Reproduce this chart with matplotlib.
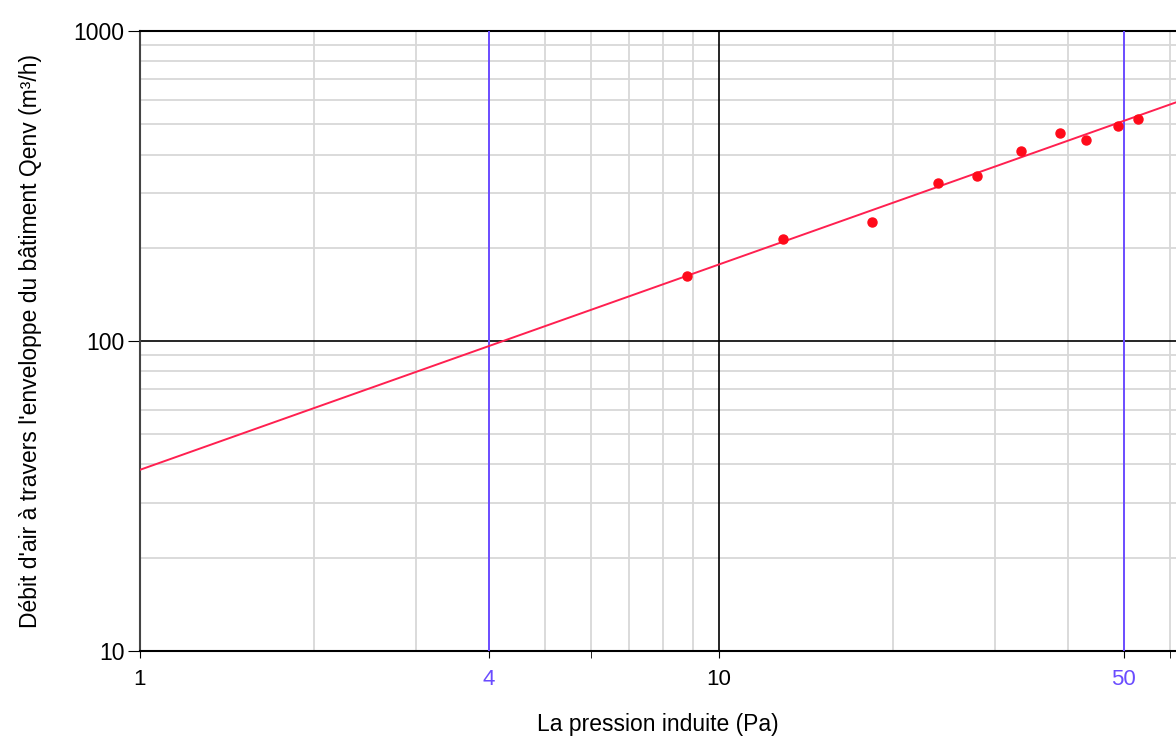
import matplotlib.pyplot as plt
from matplotlib.ticker import FixedLocator, NullFormatter
import numpy as np

plt.rcParams['font.family'] = ['Liberation Sans', 'DejaVu Sans']

# measured points (pressure Pa, flow m3/h)
pression = [8.8, 12.9, 18.4, 23.9, 27.9, 33.2, 38.8, 43.0, 48.9, 52.9]
debit = [162, 213, 242, 323, 341, 410, 469, 445, 494, 520]

# fitted law Q = C * P^n
coef_c = 38.4
expo_n = 0.663

ref_pressions = [4, 50]
x_labels = ['1', '4', '10', '50']
x_label_pos = [1, 4, 10, 50]

fig = plt.figure(figsize=(11.76, 7.43), dpi=100)
ax = fig.add_axes([0.119, 0.124, 0.881, 0.834])
ax.set_xscale('log')
ax.set_yscale('log')
ax.set_xlim(1, 61.5)
ax.set_ylim(10, 1000)

# light grid
minor_x = [2, 3, 5, 6, 7, 8, 9, 20, 30, 40, 60]
minor_y = [v * d for d in (10, 100) for v in range(2, 10)]
for v in minor_x:
    ax.axvline(v, color='#d8d8d8', lw=1.3, zorder=1)
for v in minor_y:
    ax.axhline(v, color='#d8d8d8', lw=1.3, zorder=1)
ax.axvline(10, color='black', lw=1.2, zorder=2)
ax.axhline(100, color='black', lw=1.2, zorder=2)
for p in ref_pressions:
    ax.axvline(p, color='#6a4cff', lw=1.4, zorder=3)

xs = np.logspace(0, np.log10(70), 200)
ax.plot(xs, coef_c * xs ** expo_n, color='#ff2050', lw=1.4, zorder=4)
ax.plot(pression, debit, 'o', color='#ff0a1a', ms=6.5, zorder=5)

ax.xaxis.set_major_locator(FixedLocator(x_label_pos))
ax.set_xticklabels(x_labels, fontsize=16)
for lab, p in zip(ax.get_xticklabels(), x_label_pos):
    if p in ref_pressions:
        lab.set_color('#6a4cff')
ax.xaxis.set_minor_locator(FixedLocator([6, 60]))
ax.xaxis.set_minor_formatter(NullFormatter())
ax.yaxis.set_major_locator(FixedLocator([10, 100, 1000]))
ax.set_yticklabels(['10', '100', '1000'], fontsize=16.5)
ax.yaxis.set_minor_locator(FixedLocator([]))
ax.tick_params(axis='x', which='major', length=5, pad=8)
ax.tick_params(axis='x', which='minor', length=5)
ax.tick_params(axis='y', length=9, pad=2)

for s in ('top', 'bottom'):
    ax.spines[s].set_linewidth(1.5)
ax.spines['left'].set_color('#444444')
ax.spines['left'].set_linewidth(1.5)
ax.spines['right'].set_visible(False)

ax.set_xlabel('La pression induite (Pa)', fontsize=16.5)
ax.xaxis.set_label_coords(0.5, -0.1)
ax.set_ylabel("Débit d'air à travers l'enveloppe du bâtiment Qenv (m³/h)", fontsize=16.5)
ax.yaxis.set_label_coords(-0.095, 0.5)

fig.savefig('out.png', dpi=100)
